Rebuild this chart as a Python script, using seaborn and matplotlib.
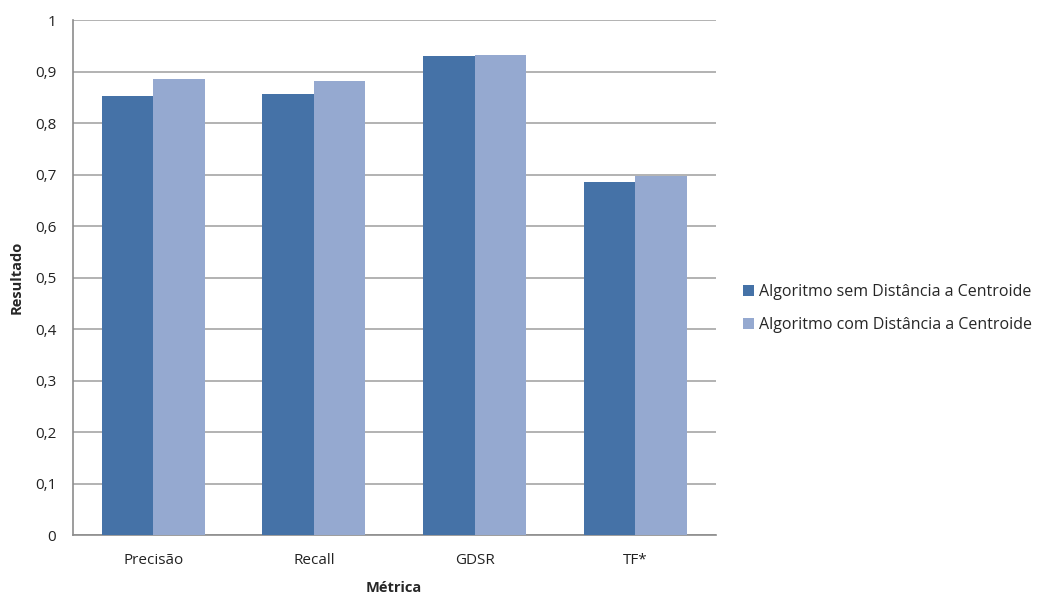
import matplotlib
matplotlib.use("Agg")
import matplotlib.pyplot as plt
import seaborn as sns
import pandas as pd
from matplotlib.ticker import FixedLocator, FuncFormatter

# Metric values per algorithm variant
metricas = ["Precisão", "Recall", "GDSR", "TF*"]
sem_distancia = [0.852, 0.856, 0.930, 0.685]
com_distancia = [0.885, 0.882, 0.932, 0.698]
series = ["Algoritmo sem Distância a Centroide", "Algoritmo com Distância a Centroide"]
cores = ["#4572A7", "#95A9D0"]

df = pd.DataFrame({
    "Métrica": metricas * 2,
    "Resultado": sem_distancia + com_distancia,
    "Série": [series[0]] * len(metricas) + [series[1]] * len(metricas),
})

sns.set_style("white")
plt.rcParams["font.family"] = ["Open Sans", "DejaVu Sans"]

fig = plt.figure(figsize=(10.4, 5.94), dpi=100)
ax = fig.add_axes([0.070, 0.099, 0.618, 0.867])

sns.barplot(data=df, x="Métrica", y="Resultado", hue="Série",
            palette=cores, width=0.64, saturation=1, linewidth=0,
            ax=ax, zorder=3)

ax.set_ylim(0, 1)
ax.set_xlim(-0.5, len(metricas) - 0.5)
ax.set_yticks([i / 10 for i in range(11)])
ax.yaxis.set_major_formatter(FuncFormatter(
    lambda v, _: "0" if v == 0 else ("1" if abs(v - 1) < 1e-9 else f"{v:.1f}".replace(".", ","))))
ax.grid(axis="y", color="#A6A6A6", linewidth=1.2, zorder=0)
ax.set_axisbelow(True)

# Category separators as ticks on the x axis
ax.xaxis.set_major_locator(FixedLocator([i - 0.5 for i in range(len(metricas) + 1)]))
ax.xaxis.set_major_formatter(FuncFormatter(lambda v, _: ""))
ax.set_xticks(list(range(len(metricas))), labels=metricas, minor=True)
ax.tick_params(axis="x", which="major", direction="out", length=6, color="#8C8C8C", width=1)
ax.tick_params(axis="x", which="minor", length=0, pad=13, labelsize=11, labelcolor="#222222")
ax.tick_params(axis="y", direction="out", length=6, color="#8C8C8C", width=1,
               labelsize=11, labelcolor="#222222", pad=6)

for s in ["top", "right"]:
    ax.spines[s].set_visible(False)
for s in ["left", "bottom"]:
    ax.spines[s].set_color("#8C8C8C")
    ax.spines[s].set_linewidth(1.2)

ax.set_xlabel("Métrica", fontsize=10.5, fontweight="bold", labelpad=9)
ax.set_ylabel("Resultado", fontsize=10.5, fontweight="bold", labelpad=8)

leg = ax.legend(loc="center left", bbox_to_anchor=(1.02, 0.44), frameon=False,
                fontsize=11.5, handlelength=0.7, handleheight=0.7, handletextpad=0.3,
                labelspacing=1.1)

fig.savefig("out.png", dpi=100)
